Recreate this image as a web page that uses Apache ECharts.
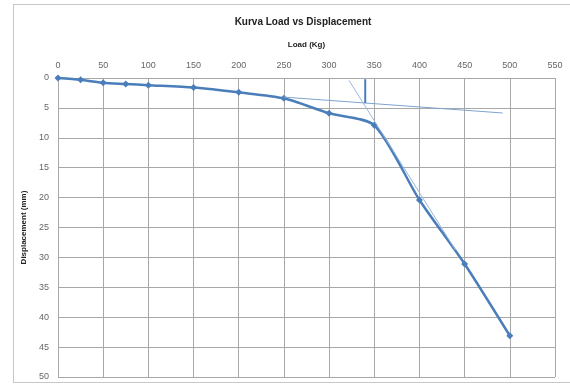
<!DOCTYPE html>
<html>
<head>
<meta charset="utf-8">
<script src="https://cdn.jsdelivr.net/npm/echarts@6/dist/echarts.min.js"></script>
<style>
  html, body { margin: 0; padding: 0; background: #fff; }
  #frame { position: absolute; left: 13px; top: 4px; width: 560px; height: 379px; border: 1px solid #c8c8c8; box-sizing: border-box; }
  #chart { position: absolute; left: 0; top: 0; width: 570px; height: 385px; }
</style>
</head>
<body>
<div id="frame"></div>
<div id="chart"></div>
<script>
const loads = [0, 25, 50, 75, 100, 150, 200, 250, 300, 350, 400, 450, 500];
const displacements = [0, 0.3, 0.8, 1.0, 1.2, 1.6, 2.4, 3.4, 5.9, 7.9, 20.4, 31.1, 43.1];

// construction lines drawn over the curve
const tangentInitial = [[250, 3.2], [492, 5.85]];
const tangentFinal = [[322, 0.4], [440, 28.8]];
const yieldMarker = [[340, 0.2], [340, 4.2]];

const chart = echarts.init(document.getElementById("chart"));

const axisText = { color: "#666", fontSize: 9, fontFamily: "Liberation Sans" };
const nameText = { color: "#222", fontSize: 8, fontWeight: "bold", fontFamily: "Liberation Sans" };

chart.setOption({
  animation: false,
  title: {
    text: "Kurva Load vs Displacement",
    left: 298,
    top: 12,
    textAlign: "center",
    textStyle: { fontSize: 10, fontWeight: "bold", color: "#222", fontFamily: "Liberation Sans" },
  },
  grid: { left: 58, right: 15, top: 78, bottom: 8 },
  xAxis: {
    type: "value",
    position: "top",
    min: 0,
    max: 550,
    interval: 50,
    name: "Load (Kg)",
    nameLocation: "middle",
    nameGap: 29,
    nameTextStyle: nameText,
    axisLine: { show: false },
    axisTick: { show: false },
    axisLabel: { ...axisText, margin: 8 },
    splitLine: { lineStyle: { color: "#a8a8a8", width: 1 } },
  },
  yAxis: {
    type: "value",
    inverse: true,
    min: 0,
    max: 50,
    interval: 5,
    name: "Displacement (mm)",
    nameLocation: "middle",
    nameGap: 25,
    nameTextStyle: nameText,
    axisLine: { show: false },
    axisTick: { show: false },
    axisLabel: { ...axisText, margin: 9 },
    splitLine: { lineStyle: { color: "#a8a8a8", width: 1 } },
  },
  series: [
    {
      type: "line",
      data: loads.map((x, i) => [x, displacements[i]]),
      smooth: 0.25,
      symbol: "diamond",
      symbolSize: 7,
      lineStyle: { color: "#4a7ebb", width: 2.5 },
      itemStyle: { color: "#4a7ebb" },
      z: 3,
    },
    {
      type: "line",
      data: tangentInitial,
      symbol: "none",
      lineStyle: { color: "#7fa3d0", width: 1 },
      z: 4,
    },
    {
      type: "line",
      data: tangentFinal,
      symbol: "none",
      lineStyle: { color: "#9ab7dc", width: 1 },
      z: 4,
    },
    {
      type: "line",
      data: yieldMarker,
      symbol: "none",
      lineStyle: { color: "#4a7ebb", width: 2 },
      z: 4,
    },
  ],
});
</script>
</body>
</html>
